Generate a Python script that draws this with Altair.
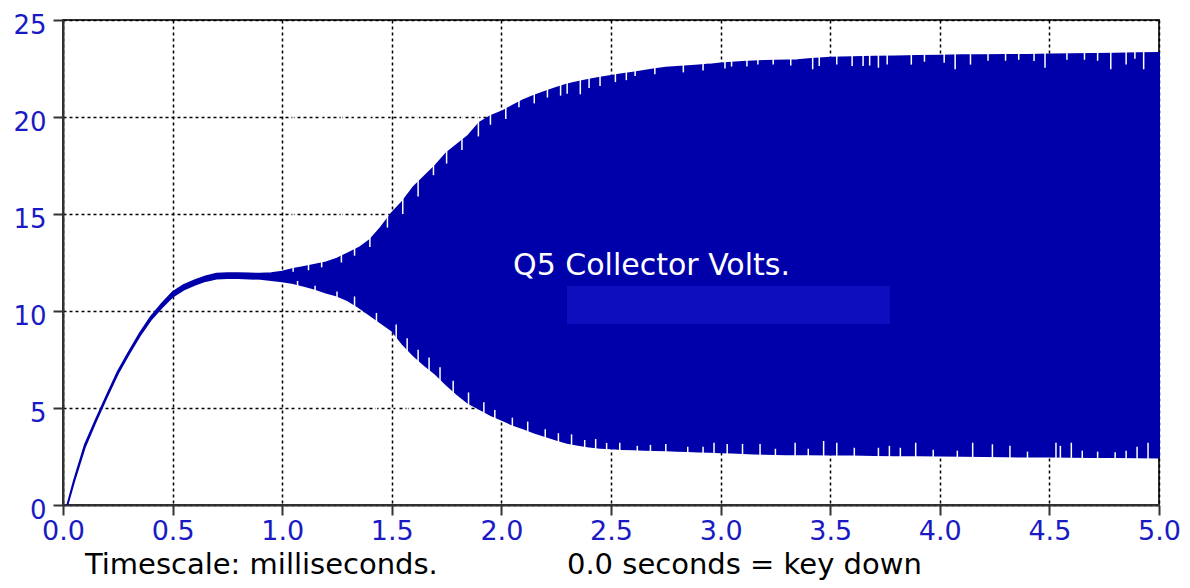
import altair as alt
import pandas as pd

# Envelope of the collector voltage trace (ms, volts)
t_env = [0.02, 0.05, 0.10, 0.15, 0.20, 0.25, 0.30, 0.35, 0.40, 0.45, 0.50, 0.55, 0.60, 0.65, 0.70,
         0.75, 0.80, 0.85, 0.90, 0.95, 1.00, 1.05, 1.10, 1.15, 1.20, 1.25, 1.30, 1.35, 1.40, 1.45,
         1.50, 1.55, 1.60, 1.65, 1.70, 1.75, 1.80, 1.85, 1.90, 1.95, 2.00, 2.05, 2.10, 2.15, 2.20,
         2.25, 2.30, 2.35, 2.40, 2.45, 2.50, 2.55, 2.60, 2.65, 2.70, 2.75, 2.80, 2.85, 2.90, 2.95,
         3.00, 3.05, 3.10, 3.15, 3.20, 3.25, 3.30, 3.35, 3.40, 3.50, 3.60, 3.70, 3.80, 3.90, 4.00,
         4.10, 4.20, 4.30, 4.40, 4.50, 4.60, 4.70, 4.80, 4.90, 5.00]
v_high = [0.0, 1.25, 3.1, 4.4, 5.65, 6.87, 7.87, 8.84, 9.68, 10.36, 10.96, 11.33, 11.58, 11.78, 11.92,
          11.94, 11.94, 11.93, 11.92, 11.95, 12.02, 12.17, 12.27, 12.38, 12.5, 12.7, 12.97, 13.25, 13.65, 14.3,
          15.05, 15.65, 16.4, 16.95, 17.5, 18.15, 18.6, 19.05, 19.7, 20.05, 20.27, 20.57, 20.87, 21.1, 21.3,
          21.5, 21.68, 21.8, 21.92, 22.03, 22.12, 22.2, 22.28, 22.37, 22.46, 22.54, 22.58, 22.62, 22.66, 22.7,
          22.76, 22.8, 22.83, 22.86, 22.89, 22.9, 22.91, 22.92, 22.98, 23.05, 23.08, 23.1, 23.12, 23.14, 23.16,
          23.18, 23.18, 23.2, 23.2, 23.22, 23.24, 23.25, 23.26, 23.28, 23.3]
v_low = [0.0, 1.2, 3.0, 4.32, 5.58, 6.78, 7.78, 8.73, 9.54, 10.18, 10.74, 11.1, 11.35, 11.55, 11.67,
         11.7, 11.7, 11.68, 11.66, 11.6, 11.53, 11.44, 11.3, 11.15, 10.95, 10.8, 10.55, 10.2, 9.8, 9.4,
         9.0, 8.3, 7.7, 7.2, 6.75, 6.2, 5.7, 5.25, 4.95, 4.65, 4.4, 4.15, 3.95, 3.73, 3.55,
         3.38, 3.21, 3.1, 3.02, 2.95, 2.92, 2.89, 2.87, 2.85, 2.83, 2.82, 2.8, 2.78, 2.76, 2.74,
         2.72, 2.7, 2.68, 2.66, 2.64, 2.63, 2.62, 2.61, 2.61, 2.6, 2.6, 2.58, 2.57, 2.56, 2.55,
         2.54, 2.52, 2.51, 2.5, 2.5, 2.49, 2.48, 2.47, 2.46, 2.45]

# Inward spikes (notches) on the upper and lower edges
up_notch_t = [1.05, 1.12, 1.18, 1.27, 1.33, 1.40, 1.48, 1.55, 1.62, 1.69, 1.75, 1.82, 1.895, 1.95, 2.02,
              2.08, 2.15, 2.21, 2.27, 2.30, 2.36, 2.40, 2.45, 2.52, 2.57, 2.61, 2.70, 2.83, 2.92, 3.02,
              3.05, 3.12, 3.17, 3.24, 3.32, 3.42, 3.45, 3.53, 3.60, 3.65, 3.68, 3.72, 3.76, 3.87, 3.93,
              4.02, 4.07, 4.14, 4.22, 4.30, 4.36, 4.43, 4.48, 4.58, 4.66, 4.72, 4.78, 4.85, 4.89, 4.93]
up_notch_v = [12.02, 12.1, 12.25, 12.5, 12.85, 13.3, 14.3, 15.0, 15.9, 17.0, 17.6, 18.3, 19.0, 19.6, 19.9,
              20.5, 20.7, 21.0, 21.1, 21.2, 21.17, 21.5, 21.6, 21.8, 21.9, 22.11, 22.2, 22.3, 22.4, 22.5,
              22.6, 22.6, 22.7, 22.7, 22.65, 22.46, 22.63, 22.7, 22.63, 22.63, 22.65, 22.54, 22.7, 22.7, 22.85,
              22.8, 22.46, 22.7, 22.9, 22.9, 22.95, 22.89, 22.54, 22.95, 22.95, 22.9, 22.46, 22.7, 23.0, 22.46]
lo_notch_t = [1.07, 1.15, 1.25, 1.33, 1.43, 1.52, 1.57, 1.62, 1.67, 1.72, 1.78, 1.85, 1.92, 1.97, 2.05,
              2.12, 2.20, 2.26, 2.32, 2.38, 2.43, 2.48, 2.54, 2.62, 2.68, 2.75, 2.85, 2.92, 2.97, 3.03,
              3.10, 3.18, 3.25, 3.34, 3.40, 3.47, 3.53, 3.61, 3.72, 3.77, 3.82, 3.89, 3.97, 4.08, 4.15,
              4.24, 4.32, 4.40, 4.53, 4.55, 4.60, 4.65, 4.72, 4.80, 4.85, 4.90, 4.95]
lo_notch_v = [11.55, 11.3, 11.0, 10.75, 9.9, 9.3, 8.6, 8.0, 7.6, 7.1, 6.4, 5.8, 5.3, 4.9, 4.5,
              4.3, 3.9, 3.7, 3.64, 3.35, 3.4, 3.2, 3.21, 3.05, 3.1, 3.15, 3.0, 3.0, 3.21, 3.15,
              3.15, 3.15, 2.9, 3.21, 2.9, 3.30, 3.21, 2.95, 2.95, 3.05, 2.95, 3.21, 2.85, 2.8, 3.21,
              3.13, 3.05, 2.75, 3.21, 3.05, 3.21, 2.8, 2.75, 2.72, 2.8, 3.0, 3.21]

x_ticks = [0.0, 0.5, 1.0, 1.5, 2.0, 2.5, 3.0, 3.5, 4.0, 4.5, 5.0]
y_ticks = [0, 5, 10, 15, 20, 25]

BLUE = "#0000aa"
LABEL_BLUE = "#1a1ac4"
FONT = "DejaVu Sans"

env = pd.DataFrame({"t": t_env, "lo": v_low, "hi": v_high})
upn = pd.DataFrame({"t": up_notch_t, "v": up_notch_v, "edge": [24.7] * len(up_notch_t)})
lon = pd.DataFrame({"t": lo_notch_t, "v": lo_notch_v, "edge": [0.6] * len(lo_notch_t)})
hatch = pd.DataFrame({"t1": [2.299], "t2": [3.773], "v1": [9.33], "v2": [11.29]})
labels = pd.DataFrame({
    "t": [2.053, 0.100, 2.299],
    "v": [11.83, -3.56, -3.56],
    "txt": ["Q5 Collector Volts.", "Timescale: milliseconds.", "0.0 seconds = key down"],
    "col": ["white", "black", "black"],
    "size": [30, 29, 29],
})

xs = alt.Scale(domain=[0, 5], nice=False, zero=False)
ys = alt.Scale(domain=[0, 25], nice=False, zero=False)

x_axis = alt.Axis(values=x_ticks, format=".1f", title=None, grid=True,
                  labelFontSize=27, labelFont=FONT, labelColor=LABEL_BLUE, labelPadding=3,
                  labelOverlap=False, labelFlush=False,
                  tickSize=10, tickWidth=2, tickColor="#333333",
                  domainColor="#333333", domainWidth=2,
                  gridColor="black", gridDash=[3, 3], gridWidth=1.5)
y_axis = alt.Axis(values=y_ticks, title=None, grid=True,
                  labelFontSize=26, labelFont=FONT, labelColor=LABEL_BLUE, labelPadding=7,
                  labelBaseline="alphabetic", labelOffset=13,
                  labelOverlap=False, labelFlush=False,
                  tickSize=10, tickWidth=2, tickColor="#333333",
                  domainColor="#333333", domainWidth=2,
                  gridColor="black", gridDash=[3, 3], gridWidth=1.5)

area = alt.Chart(env).mark_area(color=BLUE, stroke=BLUE, strokeWidth=2, interpolate="linear").encode(
    x=alt.X("t:Q", scale=xs, axis=x_axis),
    y=alt.Y("lo:Q", scale=ys, axis=y_axis),
    y2="hi:Q",
)

up_rules = alt.Chart(upn).mark_rule(color="white", strokeWidth=1.5).encode(
    x="t:Q", y="v:Q", y2="edge:Q"
)
lo_rules = alt.Chart(lon).mark_rule(color="white", strokeWidth=1.5).encode(
    x="t:Q", y="v:Q", y2="edge:Q"
)
hatch_rect = alt.Chart(hatch).mark_rect(color="#1010c0", opacity=0.9).encode(
    x="t1:Q", x2="t2:Q", y="v1:Q", y2="v2:Q"
)
texts = alt.Chart(labels).mark_text(align="left", baseline="alphabetic", font=FONT).encode(
    x="t:Q", y="v:Q", text="txt:N",
    color=alt.Color("col:N", scale=None),
    size=alt.Size("size:Q", scale=None),
)

chart = alt.layer(area, up_rules, lo_rules, hatch_rect, texts).properties(
    width=1096, height=485,
    autosize=alt.AutoSizeParams(type="none"),
    padding={"left": 55, "top": 12, "right": 23, "bottom": 75},
    background="white",
).configure_view(stroke="#333333", strokeWidth=2)

chart.save("out.html", embed_options={"renderer": "svg", "actions": False})
